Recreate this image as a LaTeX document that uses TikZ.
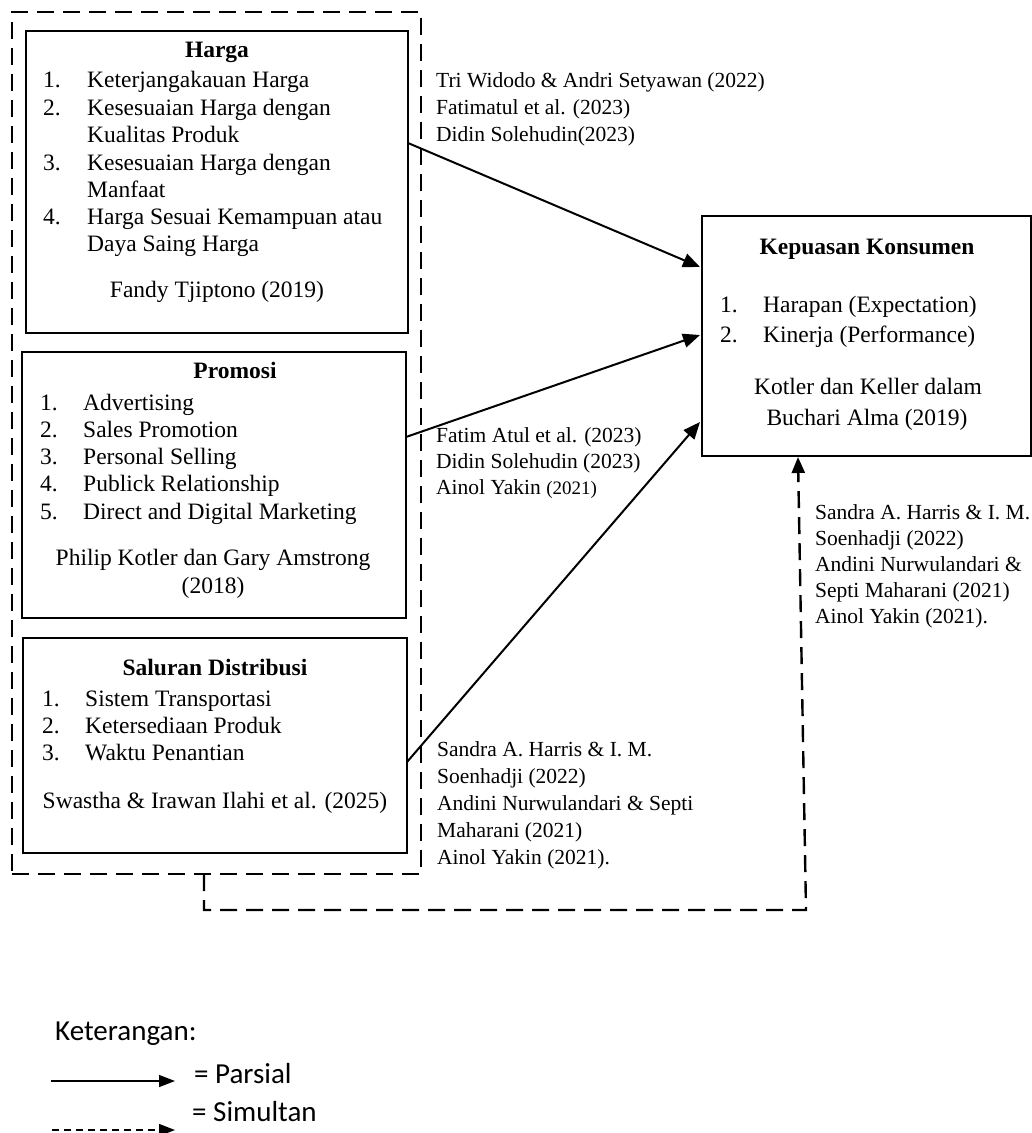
\documentclass[tikz,border=0pt]{standalone}
\usepackage{fontspec}
\setmainfont{Liberation Serif}
\newfontfamily\legendfont{Carlito}
\usetikzlibrary{arrows.meta}
\begin{document}
\begin{tikzpicture}[x=1pt,y=-1pt,
  boxstyle/.style={draw, line width=1.3pt, inner sep=0pt, outer sep=0pt, anchor=north west},
  grpstyle/.style={draw, line width=2.4pt, dash pattern=on 17pt off 9pt, inner sep=0pt, outer sep=0pt, anchor=north west},
  btxt/.style={font=\fontsize{23.5}{27.5}\selectfont, inner sep=0pt, anchor=mid west},
  bctr/.style={font=\fontsize{23.5}{27.5}\selectfont, inner sep=0pt, anchor=mid},
  btitle/.style={font=\fontsize{23.5}{27.5}\selectfont\bfseries, inner sep=0pt, anchor=mid},
  ltxt/.style={font=\fontsize{21.5}{26}\selectfont, inner sep=0pt, anchor=mid west},
  gtxt/.style={font=\legendfont\fontsize{29}{32}\selectfont, inner sep=0pt, anchor=mid west},
  mainarrow/.style={line width=2pt, -{Triangle[length=17pt,width=14pt]}},
  simarrow/.style={line width=2.4pt, dash pattern=on 17pt off 9pt, -{Triangle[length=16pt,width=13pt]}},
  legsolid/.style={line width=1.3pt, -{Triangle[length=16pt,width=12pt]}},
  legdashed/.style={line width=1.3pt, dash pattern=on 7pt off 5pt, -{Triangle[length=16pt,width=12pt]}}
]
\useasboundingbox (0,0) rectangle (1032,1133);

% group box
\node[grpstyle, minimum width=409pt, minimum height=862pt] (grp) at (12,12) {};

% Harga box
\node[boxstyle, minimum width=382pt, minimum height=302pt] (harga) at (26,31) {};
\node[btitle] (hT) at (217,55) {Harga};
\node[btxt] (h1n) at (43,85) {1.};  \node[btxt] (h1t) at (87,85) {Keterjangakauan Harga};
\node[btxt] (h2n) at (43,113) {2.}; \node[btxt] (h2t) at (87,113) {Kesesuaian Harga dengan};
\node[btxt] (h2c) at (87,140) {Kualitas Produk};
\node[btxt] (h3n) at (43,168) {3.}; \node[btxt] (h3t) at (87,168) {Kesesuaian Harga dengan};
\node[btxt] (h3c) at (87,195) {Manfaat};
\node[btxt] (h4n) at (43,222) {4.}; \node[btxt] (h4t) at (87,222) {Harga Sesuai Kemampuan atau};
\node[btxt] (h4c) at (87,249) {Daya Saing Harga};
\node[bctr] (hS) at (217,295) {Fandy Tjiptono (2019)};

% Promosi box
\node[boxstyle, minimum width=384pt, minimum height=266pt] (promosi) at (22,352) {};
\node[btitle] (pT) at (235,376) {Promosi};
\node[btxt] (p1n) at (40,408) {1.}; \node[btxt] (p1t) at (83,408) {Advertising};
\node[btxt] (p2n) at (40,435) {2.}; \node[btxt] (p2t) at (83,435) {Sales Promotion};
\node[btxt] (p3n) at (40,462) {3.}; \node[btxt] (p3t) at (83,462) {Personal Selling};
\node[btxt] (p4n) at (40,489) {4.}; \node[btxt] (p4t) at (83,489) {Publick Relationship};
\node[btxt] (p5n) at (40,517) {5.}; \node[btxt] (p5t) at (83,517) {Direct and Digital Marketing};
\node[bctr] (pS1) at (213,563) {Philip Kotler dan Gary Amstrong};
\node[bctr] (pS2) at (213,591) {(2018)};

% Saluran Distribusi box
\node[boxstyle, minimum width=384pt, minimum height=215pt] (saluran) at (23,638) {};
\node[btitle] (sT) at (215,673) {Saluran Distribusi};
\node[btxt] (s1n) at (42,704) {1.}; \node[btxt] (s1t) at (85,704) {Sistem Transportasi};
\node[btxt] (s2n) at (42,731) {2.}; \node[btxt] (s2t) at (85,731) {Ketersediaan Produk};
\node[btxt] (s3n) at (42,758) {3.}; \node[btxt] (s3t) at (85,758) {Waktu Penantian};
\node[bctr] (sS) at (215,806) {Swastha \& Irawan Ilahi et al. (2025)};

% Kepuasan Konsumen box
\node[boxstyle, minimum width=329pt, minimum height=240pt] (kepuasan) at (702,216) {};
\node[btitle] (kT) at (867,252) {Kepuasan Konsumen};
\node[btxt] (k1n) at (720,310) {1.}; \node[btxt] (k1t) at (763,310) {Harapan (Expectation)};
\node[btxt] (k2n) at (720,340) {2.}; \node[btxt] (k2t) at (763,340) {Kinerja (Performance)};
\node[bctr] (kS1) at (868,392) {Kotler dan Keller dalam};
\node[bctr] (kS2) at (867,423) {Buchari Alma (2019)};

% labels
\node[ltxt] (la1) at (436,85) {Tri Widodo \& Andri Setyawan (2022)};
\node[ltxt] (la2) at (436,112) {Fatimatul et al. (2023)};
\node[ltxt] (la3) at (436,139) {Didin Solehudin(2023)};

\node[ltxt] (lb1) at (436,440) {Fatim Atul et al. (2023)};
\node[ltxt] (lb2) at (436,466) {Didin Solehudin (2023)};
\node[ltxt] (lb3) at (436,492) {Ainol Yakin {\fontsize{19}{19}\selectfont (2021)}};

\node[ltxt] (lc1) at (437,754) {Sandra A. Harris \& I. M.};
\node[ltxt] (lc2) at (437,781) {Soenhadji (2022)};
\node[ltxt] (lc3) at (437,808) {Andini Nurwulandari \& Septi};
\node[ltxt] (lc4) at (437,835) {Maharani (2021)};
\node[ltxt] (lc5) at (437,862) {Ainol Yakin (2021).};

\node[ltxt] (ld1) at (815,517) {Sandra A. Harris \& I. M.};
\node[ltxt] (ld2) at (815,543) {Soenhadji (2022)};
\node[ltxt] (ld3) at (815,569) {Andini Nurwulandari \&};
\node[ltxt] (ld4) at (815,595) {Septi Maharani (2021)};
\node[ltxt] (ld5) at (815,621) {Ainol Yakin (2021).};

% arrow endpoints
\coordinate (hOut) at (408,143);
\coordinate (pOut) at (406,437);
\coordinate (sOut) at (407,762);
\coordinate (kIn1) at (700,267);
\coordinate (kIn2) at (700,335);
\coordinate (kIn3) at (700,422);
\draw[mainarrow] (hOut) -- (kIn1);
\draw[mainarrow] (pOut) -- (kIn2);
\draw[mainarrow] (sOut) -- (kIn3);

% simultaneous dashed connector
\coordinate (d0) at (204,874);
\coordinate (d1) at (204,910);
\coordinate (d2) at (806,910);
\coordinate (d3) at (798,457);
\draw[simarrow] (d0) -- (d1) -- (d2) -- (d3);

% legend
\node[gtxt] (legT) at (55,1038) {Keterangan:};
\coordinate (lsA) at (51,1081);
\coordinate (lsB) at (175,1081);
\draw[legsolid] (lsA) -- (lsB);
\node[gtxt] (legP) at (194,1081) {= Parsial};
\node[gtxt] (legS) at (192,1119) {= Simultan};
\coordinate (ldA) at (52,1130);
\coordinate (ldB) at (175,1130);
\draw[legdashed] (ldA) -- (ldB);
\end{tikzpicture}
\end{document}
